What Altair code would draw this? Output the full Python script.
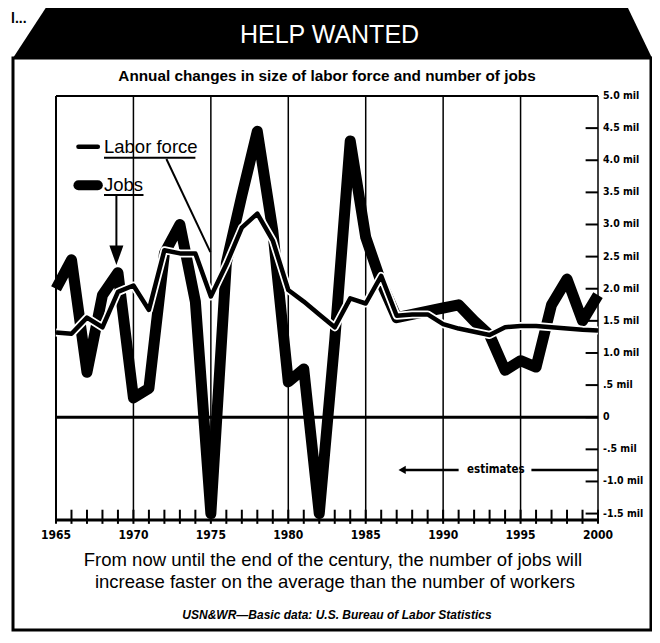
import altair as alt
import pandas as pd

# ---------------- data ----------------
years = list(range(1965, 2001))
labor_force = [1.32, 1.30, 1.55, 1.40, 1.95, 2.05, 1.67, 2.60, 2.55, 2.55,
               1.88, 2.38, 2.95, 3.17, 2.75, 1.98, 1.80, 1.60, 1.40, 1.85,
               1.77, 2.20, 1.58, 1.60, 1.60, 1.45, 1.38, 1.33, 1.28, 1.40,
               1.42, 1.42, 1.40, 1.38, 1.36, 1.35]
jobs = [2.00, 2.45, 0.70, 1.90, 2.25, 0.30, 0.45, 2.55, 3.00, 1.80,
        -1.50, 2.40, 3.45, 4.45, 2.90, 0.55, 0.75, -1.50, 1.20, 4.30,
        2.80, 2.10, 1.55, 1.60, 1.65, 1.70, 1.75, 1.50, 1.28, 0.73,
        0.88, 0.78, 1.75, 2.15, 1.50, 1.90]

grid_years = [1970, 1975, 1980, 1985, 1990, 1995]
x_label_years = [1965, 1970, 1975, 1980, 1985, 1990, 1995, 2000]
x_labels = ["1965", "1970", "1975", "1980", "1985", "1990", "1995", "2000"]
y_tick_values = [5.0, 4.5, 4.0, 3.5, 3.0, 2.5, 2.0, 1.5, 1.0, 0.5, 0.0, -0.5, -1.0, -1.5]
y_tick_labels = ["5.0 mil", "4.5 mil", "4.0 mil", "3.5 mil", "3.0 mil", "2.5 mil", "2.0 mil",
                 "1.5 mil", "1.0 mil", ".5 mil", "0", "-.5 mil", "-1.0 mil", "-1.5 mil"]

legend_names = ["Labor force", "Jobs"]
legend_values = [4.21, 3.61]
legend_underline_values = [4.04, 3.46]
legend_underline_end = [1974.0, 1970.65]
legend_text_year = 1968.1
swatch_years = [1966.45, 1967.7]

labor_pointer = {"x": [1972.13], "y": [4.02], "x2": [1974.97], "y2": [2.57]}
jobs_arrow = {"x": [1968.9], "y": [3.45], "y2": [2.66], "head": [2.52]}

estimates_value = -0.82
estimates_segments = {"x": [1987.4, 1995.7], "x2": [1991.0, 2000.0]}
estimates_text_year = 1993.4
estimates_arrow_year = 1987.35

Y_MIN, Y_MAX = -1.6, 5.0
W, H = 542, 424

xs = alt.Scale(domain=[1965, 2000], nice=False, zero=False)
ys = alt.Scale(domain=[Y_MIN, Y_MAX], nice=False, zero=False)

COND = "DejaVu Sans Condensed, DejaVu Sans, sans-serif"
SANS = "Liberation Sans, Arial, sans-serif"


def X(f):
    return alt.X(f, scale=xs, axis=None)


def Y(f):
    return alt.Y(f, scale=ys, axis=None)


def label(text, px, py, size, color="black", weight="normal", style="normal",
          font=SANS, align="center"):
    return alt.Chart(pd.DataFrame({"t": [text]})).mark_text(
        fontSize=size, color=color, fontWeight=weight, fontStyle=style,
        font=font, align=align, baseline="middle"
    ).encode(x=alt.value(px), y=alt.value(py), text="t:N")


df = pd.DataFrame({"year": years, "labor": labor_force, "jobs": jobs})

# ---------------- frame / decorations ----------------
box = alt.Chart(pd.DataFrame({"a": [0]})).mark_rect(
    filled=False, stroke="black", strokeWidth=3
).encode(x=alt.value(-43), x2=alt.value(595), y=alt.value(-38), y2=alt.value(534))

banner_path = "M-1,0.0814L-0.8936,-0.0814L0.9218,-0.0814L1,0.0814Z"
banner = alt.Chart(pd.DataFrame({"a": [0]})).mark_point(
    shape=banner_path, filled=True, color="black", opacity=1, size=408321, strokeWidth=0
).encode(x=alt.value(276.5), y=alt.value(-64))

# ---------------- grid & axes ----------------
grid = alt.Chart(pd.DataFrame({"x": grid_years, "y": [Y_MIN] * 6, "y2": [Y_MAX] * 6})).mark_rule(
    color="black", strokeWidth=1.5
).encode(x=X("x:Q"), y=Y("y:Q"), y2="y2:Q")

borders = alt.Chart(pd.DataFrame({
    "x": [1965, 2000, 1965, 1965, 1965],
    "x2": [1965, 2000, 2000, 2000, 2000],
    "y": [Y_MIN, Y_MIN, Y_MAX, 0.0, Y_MIN],
    "y2": [Y_MAX, Y_MAX, Y_MAX, 0.0, Y_MIN],
    "w": [2, 1.5, 2, 3, 3],
})).mark_rule(color="black").encode(
    x=X("x:Q"), x2="x2:Q", y=Y("y:Q"), y2="y2:Q",
    strokeWidth=alt.StrokeWidth("w:Q", scale=None)
)

year_ticks = alt.Chart(pd.DataFrame({
    "x": years, "y": [Y_MIN - 0.06] * len(years), "y2": [Y_MIN + 0.16] * len(years)
})).mark_rule(color="black", strokeWidth=2).encode(x=X("x:Q"), y=Y("y:Q"), y2="y2:Q")

right_ticks = alt.Chart(pd.DataFrame({
    "x": [1999.2] * 13, "x2": [2000.0] * 13, "y": y_tick_values[1:]
})).mark_rule(color="black", strokeWidth=2).encode(x=X("x:Q"), x2="x2:Q", y=Y("y:Q"))

x_label_layer = alt.Chart(pd.DataFrame({"x": x_label_years, "t": x_labels})).mark_text(
    fontSize=12, fontWeight="bold", font=COND, baseline="middle", align="center"
).encode(x=X("x:Q"), y=alt.value(H + 15), text="t:N")

y_label_layer = alt.Chart(pd.DataFrame({"y": y_tick_values, "t": y_tick_labels})).mark_text(
    fontSize=10.5, fontWeight="bold", font=COND, baseline="middle", align="left"
).encode(x=alt.value(W + 5), y=Y("y:Q"), text="t:N")

# ---------------- series ----------------
jobs_line = alt.Chart(df).mark_line(
    color="black", strokeWidth=11, strokeJoin="round", strokeCap="butt"
).encode(x=X("year:Q"), y=Y("jobs:Q"))

labor_halo = alt.Chart(df).mark_line(
    color="white", strokeWidth=8, strokeJoin="round"
).encode(x=X("year:Q"), y=Y("labor:Q"))

labor_line = alt.Chart(df).mark_line(
    color="black", strokeWidth=4.5, strokeJoin="round"
).encode(x=X("year:Q"), y=Y("labor:Q"))

# ---------------- legend & annotations ----------------
sw = pd.DataFrame({"x": [swatch_years[0]] * 2, "x2": [swatch_years[1]] * 2,
                   "y": legend_values, "w": [4.5, 10]})
swatches = alt.Chart(sw).mark_rule(color="black", strokeCap="round").encode(
    x=X("x:Q"), x2="x2:Q", y=Y("y:Q"), strokeWidth=alt.StrokeWidth("w:Q", scale=None)
)

legend_text = alt.Chart(pd.DataFrame({
    "x": [legend_text_year] * 2, "y": legend_values, "t": legend_names
})).mark_text(
    fontSize=18.5, font=SANS, align="left", baseline="middle"
).encode(x=X("x:Q"), y=Y("y:Q"), text="t:N")

underlines = alt.Chart(pd.DataFrame({
    "x": [legend_text_year] * 2, "x2": legend_underline_end, "y": legend_underline_values
})).mark_rule(color="black", strokeWidth=2).encode(x=X("x:Q"), x2="x2:Q", y=Y("y:Q"))

pointer = alt.Chart(pd.DataFrame(labor_pointer)).mark_rule(color="black", strokeWidth=2).encode(
    x=X("x:Q"), x2="x2:Q", y=Y("y:Q"), y2="y2:Q"
)

arrow_shaft = alt.Chart(pd.DataFrame(jobs_arrow)).mark_rule(color="black", strokeWidth=2).encode(
    x=X("x:Q"), y=Y("y:Q"), y2="y2:Q"
)
arrow_head = alt.Chart(pd.DataFrame(jobs_arrow)).mark_point(
    shape="M0,1.4L-1,-1.4L1,-1.4Z", filled=True, color="black", opacity=1, size=196, strokeWidth=0
).encode(x=X("x:Q"), y=Y("head:Q"))

est_df = pd.DataFrame({**estimates_segments, "y": [estimates_value] * 2})
est_lines = alt.Chart(est_df).mark_rule(color="black", strokeWidth=2.5).encode(
    x=X("x:Q"), x2="x2:Q", y=Y("y:Q")
)
est_head = alt.Chart(pd.DataFrame({"x": [estimates_arrow_year], "y": [estimates_value]})).mark_point(
    shape="triangle-left", filled=True, color="black", opacity=1, size=70, strokeWidth=0
).encode(x=X("x:Q"), y=Y("y:Q"))
est_text = alt.Chart(pd.DataFrame({
    "x": [estimates_text_year], "y": [estimates_value], "t": ["estimates"]
})).mark_text(
    fontSize=11.5, fontWeight="bold", font=COND, baseline="middle", align="center"
).encode(x=X("x:Q"), y=Y("y:Q"), text="t:N")

# ---------------- texts ----------------
t_frag = label("l...", -45, -77, 14, weight="bold", align="left")
t_banner = label("HELP WANTED", 273.5, -61, 25, color="white")
t_title = label("Annual changes in size of labor force and number of jobs", 271, -20, 15.3,
                weight="bold")
t_cap1 = label("From now until the end of the century, the number of jobs will", 277, 464, 18.5)
t_cap2 = label("increase faster on the average than the number of workers", 279, 486, 18.5)
t_src = label("USN&WR\u2014Basic data: U.S. Bureau of Labor Statistics", 281, 519, 12,
              weight="bold", style="italic")

chart = alt.layer(
    box, banner, grid, borders, year_ticks, right_ticks,
    jobs_line, labor_halo, labor_line,
    swatches, legend_text, underlines, pointer, arrow_shaft, arrow_head,
    est_lines, est_head, est_text,
    x_label_layer, y_label_layer,
    t_frag, t_banner, t_title, t_cap1, t_cap2, t_src,
).properties(
    width=W, height=H,
    padding={"left": 48, "top": 88, "right": 54, "bottom": 115},
    autosize=alt.AutoSizeParams(type="none"),
    background="white",
).configure_view(stroke=None)

chart.save("out.html", embed_options={"renderer": "svg", "actions": False})
